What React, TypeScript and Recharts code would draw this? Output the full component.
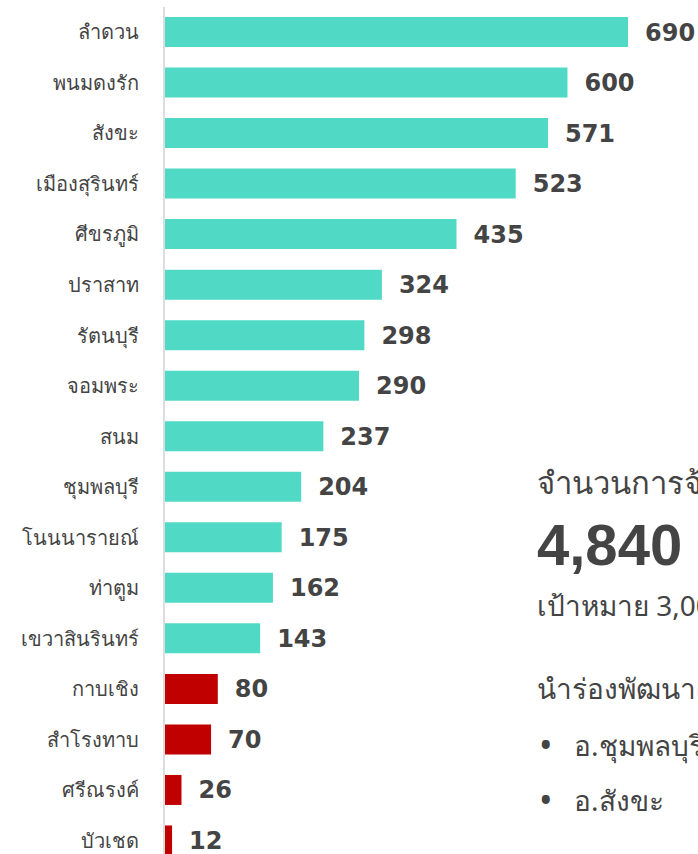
import { Bar, BarChart, Cell, LabelList, XAxis, YAxis } from "recharts";

// อำเภอ + จำนวน (เรียงจากมากไปน้อย)
const districts = [
	"ลำดวน",
	"พนมดงรัก",
	"สังขะ",
	"เมืองสุรินทร์",
	"ศีขรภูมิ",
	"ปราสาท",
	"รัตนบุรี",
	"จอมพระ",
	"สนม",
	"ชุมพลบุรี",
	"โนนนารายณ์",
	"ท่าตูม",
	"เขวาสินรินทร์",
	"กาบเชิง",
	"สำโรงทาบ",
	"ศรีณรงค์",
	"บัวเชด",
];
const counts = [690, 600, 571, 523, 435, 324, 298, 290, 237, 204, 175, 162, 143, 80, 70, 26, 12];
// ต่ำกว่าเกณฑ์ -> แดง
const belowTarget = [false, false, false, false, false, false, false, false, false, false, false, false, false, true, true, true, true];

const TEAL = "#50d9c4";
const RED = "#c00000";
const TEXT = "#444444";
const THAI_FONT = '"Noto Sans", "Liberation Sans", sans-serif';
const NUM_FONT = '"DejaVu Sans", Arial, sans-serif';

const data = districts.map((name, i) => ({ name, value: counts[i], low: belowTarget[i] }));

const line = (top: number, size: number, extra: React.CSSProperties = {}): React.CSSProperties => ({
	position: "absolute",
	left: 537,
	top,
	fontSize: size,
	lineHeight: "40px",
	whiteSpace: "nowrap",
	color: TEXT,
	...extra,
});

const bullet: React.CSSProperties = {
	display: "inline-block",
	width: 35,
	paddingLeft: 2,
	fontSize: 36,
	lineHeight: "40px",
	verticalAlign: "top",
};

export default function App() {
	return (
		<div
			style={{
				position: "absolute",
				top: 0,
				left: 0,
				width: 698,
				height: 854,
				overflow: "hidden",
				background: "#fff",
				fontFamily: THAI_FONT,
			}}
		>
			<BarChart
				width={698}
				height={866}
				data={data}
				layout="vertical"
				margin={{ top: 7, right: 70, bottom: 0, left: 0 }}
			>
				<XAxis type="number" domain={[0, 690]} hide />
				<YAxis
					type="category"
					dataKey="name"
					width={164}
					tickSize={0}
					tickMargin={25}
					tickLine={false}
					axisLine={{ stroke: "#dddddd", strokeWidth: 2 }}
					tick={{ fill: TEXT, fontSize: 20, fontFamily: THAI_FONT }}
				/>
				<Bar dataKey="value" barSize={30} isAnimationActive={false}>
					{data.map((d) => (
						<Cell key={d.name} fill={d.low ? RED : TEAL} />
					))}
					<LabelList
						dataKey="value"
						position="right"
						offset={17}
						fill={TEXT}
						fontSize={24}
						fontWeight={700}
						fontFamily={NUM_FONT}
					/>
				</Bar>
			</BarChart>

			<div style={line(462, 31)}>จำนวนการจ้างงาน</div>
			<div
				style={line(516, 58, {
					fontWeight: 700,
					lineHeight: "58px",
					fontFamily: '"Liberation Sans", Arial, sans-serif',
				})}
			>
				4,840
			</div>
			<div style={line(585, 28)}>เป้าหมาย 3,000 คน</div>
			<div style={line(668, 28)}>นำร่องพัฒนาเมือง</div>
			<div style={line(725, 28)}>
				<span style={bullet}>•</span>อ.ชุมพลบุรี
			</div>
			<div style={line(780, 28)}>
				<span style={bullet}>•</span>อ.สังขะ
			</div>
		</div>
	);
}
